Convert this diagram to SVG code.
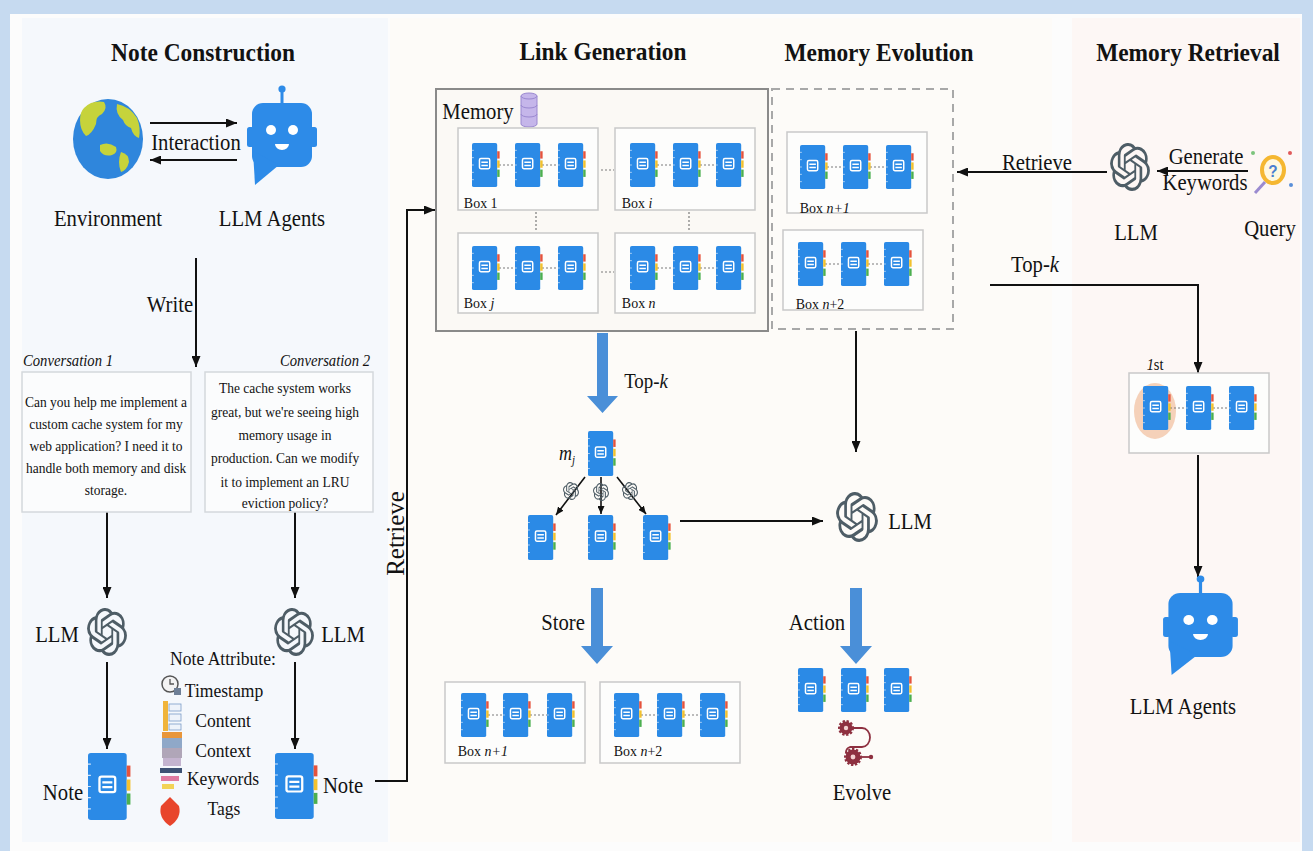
<svg xmlns="http://www.w3.org/2000/svg" width="1313" height="851" viewBox="0 0 1313 851">
<style>
text{font-family:"Liberation Serif","Times New Roman",serif;fill:#121212;text-anchor:middle;transform-box:fill-box;transform-origin:center;transform:scaleX(.9)}
.h{font-size:26px;font-weight:bold}
.t{font-size:23px}
.s{font-size:15px}
.a{font-size:19.5px}
.c{font-size:16.3px;font-style:italic}
.b{font-size:15.5px;text-anchor:start}
.i{font-style:italic}
.v{transform:rotate(-90deg)}
.ln{fill:none;stroke:#111;stroke-width:2}
.arr{marker-end:url(#ah)}
.sarr{fill:none;stroke:#111;stroke-width:1.6;marker-end:url(#ahs)}
.box{fill:#fdfdfc;stroke:#c9c9c9;stroke-width:1.5}
.tbox{fill:#fbfcfd;stroke:#d4d8dc;stroke-width:1.5}
.dot{fill:none;stroke:#7a7a7a;stroke-width:1.2;stroke-dasharray:2 2}
.blue{fill:#4a8fd8}
.llm{color:#4e5d66}
.gear{fill:#8e3040;stroke:#8e3040;stroke-width:3;stroke-dasharray:2.2 1.6}
</style>
<defs>
  <marker id="ah" markerWidth="11" markerHeight="9" refX="11" refY="4.5" orient="auto" markerUnits="userSpaceOnUse">
    <path d="M0,0 L11,4.5 L0,9 Z" fill="#111"/>
  </marker>
  <marker id="ahs" markerWidth="8" markerHeight="7" refX="8" refY="3.5" orient="auto" markerUnits="userSpaceOnUse">
    <path d="M0,0 L8,3.5 L0,7 Z" fill="#111"/>
  </marker>
  <!-- blue notebook -->
  <symbol id="note" viewBox="0 0 30 48" preserveAspectRatio="none">
    <rect x="0" y="0" width="27" height="48" rx="2" fill="#2b8ae6"/>
    <rect x="27" y="9" width="2.6" height="8" fill="#e5533d"/>
    <rect x="27" y="19" width="2.6" height="8" fill="#f2c12e"/>
    <rect x="27" y="29" width="2.6" height="8" fill="#4caf50"/>
    <rect x="8" y="17" width="11" height="11" rx="1.5" fill="none" stroke="#fff" stroke-width="1.6"/>
    <path d="M10,21H17M10,24.5H17" stroke="#fff" stroke-width="1.6"/>
    <path d="M0,8h2M0,16h2M0,24h2M0,32h2M0,40h2" stroke="#d3e6fa" stroke-width=".8"/>
  </symbol>
  <!-- LLM logo -->
  <symbol id="oai" viewBox="0 0 24 24" preserveAspectRatio="none">
    <path fill="currentColor" d="M22.2819 9.8211a5.9847 5.9847 0 0 0-.5157-4.9108 6.0462 6.0462 0 0 0-6.5098-2.9A6.0651 6.0651 0 0 0 4.9807 4.1818a5.9847 5.9847 0 0 0-3.9977 2.9 6.0462 6.0462 0 0 0 .7427 7.0966 5.98 5.98 0 0 0 .511 4.9107 6.051 6.051 0 0 0 6.5146 2.9001A5.9847 5.9847 0 0 0 13.2599 24a6.0557 6.0557 0 0 0 5.7718-4.2058 5.9894 5.9894 0 0 0 3.9977-2.9001 6.0557 6.0557 0 0 0-.7475-7.0729zm-9.022 12.6081a4.4755 4.4755 0 0 1-2.8764-1.0408l.1419-.0804 4.7783-2.7582a.7948.7948 0 0 0 .3927-.6813v-6.7369l2.02 1.1686a.071.071 0 0 1 .038.052v5.5826a4.504 4.504 0 0 1-4.4945 4.4944zm-9.6607-4.1254a4.4708 4.4708 0 0 1-.5346-3.0137l.142.0852 4.783 2.7582a.7712.7712 0 0 0 .7806 0l5.8428-3.3685v2.3324a.0804.0804 0 0 1-.0332.0615L9.74 19.9502a4.4992 4.4992 0 0 1-6.1408-1.6464zM2.3408 7.8956a4.485 4.485 0 0 1 2.3655-1.9728V11.6a.7664.7664 0 0 0 .3879.6765l5.8144 3.3543-2.0201 1.1685a.0757.0757 0 0 1-.071 0l-4.8303-2.7865A4.504 4.504 0 0 1 2.3408 7.872zm16.5963 3.8558L13.1038 8.364 15.1192 7.2a.0757.0757 0 0 1 .071 0l4.8303 2.7913a4.4944 4.4944 0 0 1-.6765 8.1042v-5.6772a.79.79 0 0 0-.407-.667zm2.0107-3.0231l-.142-.0852-4.7735-2.7818a.7759.7759 0 0 0-.7854 0L9.409 9.2297V6.8974a.0662.0662 0 0 1 .0284-.0615l4.8303-2.7866a4.4992 4.4992 0 0 1 6.6802 4.66zM8.3065 12.863l-2.02-1.1638a.0804.0804 0 0 1-.038-.0567V6.0742a4.4992 4.4992 0 0 1 7.3757-3.4537l-.142.0805L8.704 5.459a.7948.7948 0 0 0-.3927.6813zm1.0976-2.3654l2.602-1.4998 2.6069 1.4998v2.9994l-2.5974 1.4997-2.6067-1.4997Z"/>
  </symbol>
  <!-- robot agent -->
  <symbol id="bot" viewBox="-6 -18 72 101" preserveAspectRatio="none">
    <line x1="30" y1="-12" x2="30" y2="0" stroke="#2d8be8" stroke-width="3"/>
    <circle cx="30" cy="-14" r="3.6" fill="#2d8be8"/>
    <rect x="-5" y="24" width="7" height="20" rx="2.5" fill="#2d8be8"/>
    <rect x="58" y="24" width="7" height="20" rx="2.5" fill="#2d8be8"/>
    <rect x="0" y="0" width="60" height="64" rx="11" fill="#2d8be8"/>
    <path d="M1,48 L3,82 L27,62 Z" fill="#2d8be8"/>
    <circle cx="19" cy="27" r="5" fill="#fff"/>
    <circle cx="41" cy="27" r="5" fill="#fff"/>
    <path d="M23,41 a7,6 0 0 0 14,0 Z" fill="#fff"/>
  </symbol>
</defs>

<!-- frame and panel backgrounds -->
<rect width="1313" height="851" fill="#c6daf0"/>
<rect x="10" y="14" width="1292" height="837" fill="#fcfcfc"/>
<rect x="22" y="18" width="366" height="824" fill="#f5f8fc"/>
<rect x="390" y="18" width="662" height="824" fill="#fdfbf8"/>
<rect x="1072" y="18" width="228" height="824" fill="#fdf7f5"/>

<!-- section titles -->
<g id="titles">
  <text class="h" x="203" y="61">Note Construction</text>
  <text class="h" x="603" y="60">Link Generation</text>
  <text class="h" x="879" y="61">Memory Evolution</text>
  <text class="h" x="1188" y="61">Memory Retrieval</text>
</g>

<!-- connectors -->
<g id="connectors">
  <path class="ln arr" d="M150,123 H237"/>
  <path class="ln arr" d="M237,160 H150"/>
  <path class="ln arr" d="M196,258 V367"/>
  <path class="ln arr" d="M107,512 V598"/>
  <path class="ln arr" d="M295,512 V598"/>
  <path class="ln arr" d="M107,662 V749"/>
  <path class="ln arr" d="M295,662 V749"/>
  <path class="ln arr" d="M375,781 H407 V210 H435"/>
  <path class="ln arr" d="M856,331 V452"/>
  <path class="ln arr" d="M680,521 H823"/>
  <path class="ln arr" d="M1107,172 H957"/>
  <path class="ln arr" d="M1248,171 H1157"/>
  <path class="ln arr" d="M990,285 H1198 V373"/>
  <path class="ln arr" d="M1198,455 V577"/>
  <path class="sarr" d="M585,477 L556,515"/>
  <path class="sarr" d="M601,477 V514"/>
  <path class="sarr" d="M617,477 L646,514"/>
  <!-- thick blue arrows -->
  <path class="blue" d="M597,333 H608 V396 H618 L602.5,413 L587,396 H597 Z"/>
  <path class="blue" d="M591,588 H603 V646 H613 L597,664 L581,646 H591 Z"/>
  <path class="blue" d="M850,588 H862 V646 H872 L856,664 L840,646 H850 Z"/>
  <text class="t" x="170" y="312">Write</text>
  <text class="t" x="196" y="150">Interaction</text>
  <text class="t v" x="395" y="542" style="font-size:25px">Retrieve</text>
  <text class="t" x="1037" y="170">Retrieve</text>
  <text class="t" x="1206" y="164">Generate</text>
  <text class="t" x="1205" y="190">Keywords</text>
  <text class="t" x="1035" y="272">Top-<tspan class="i">k</tspan></text>
  <text class="t" x="646" y="388" style="font-size:21px">Top-<tspan class="i">k</tspan></text>
  <text class="t" x="563" y="630">Store</text>
  <text class="t" x="817" y="630">Action</text>
</g>

<!-- environment globe -->
<g id="environment">
  <ellipse cx="108" cy="139" rx="35" ry="40" fill="#2f86dc"/>
  <path d="M84,108 q8,-8 20,-6 q4,6 -2,12 q-6,2 -6,10 q-4,10 -10,12 q-6,-6 -6,-16 q0,-8 4,-12 z" fill="#c6d33b"/>
  <path d="M117,104 q12,2 20,14 q4,10 2,20 q-6,-2 -8,-10 q-6,-2 -8,-8 q-8,-6 -6,-16 z" fill="#c6d33b"/>
  <path d="M100,145 q8,-4 16,2 q2,6 -4,8 q-8,2 -12,-4 z" fill="#c6d33b"/>
  <path d="M121,152 q8,2 8,10 q-2,8 -8,10 q-4,-10 0,-20 z" fill="#c6d33b"/>
  <text class="t" x="108" y="226">Environment</text>
</g>

<!-- agent (top) -->
<g id="agent-top">
  <use href="#bot" x="246" y="85" width="72" height="101"/>
  <text class="t" x="272" y="226">LLM Agents</text>
</g>

<!-- conversations -->
<g id="conversation-1">
  <text class="c" x="68" y="366">Conversation 1</text>
  <rect class="tbox" x="22" y="372" width="169" height="140"/>
  <text class="s" x="106" y="407">Can you help me implement a</text>
  <text class="s" x="106" y="429">custom cache system for my</text>
  <text class="s" x="106" y="451">web application? I need it to</text>
  <text class="s" x="106" y="473">handle both memory and disk</text>
  <text class="s" x="106" y="495">storage.</text>
</g>
<g id="conversation-2">
  <text class="c" x="325" y="366">Conversation 2</text>
  <rect class="tbox" x="205" y="372" width="168" height="140"/>
  <text class="s" x="285" y="393">The cache system works</text>
  <text class="s" x="285" y="417">great, but we're seeing high</text>
  <text class="s" x="285" y="440">memory usage in</text>
  <text class="s" x="285" y="463">production. Can we modify</text>
  <text class="s" x="285" y="487">it to implement an LRU</text>
  <text class="s" x="285" y="508">eviction policy?</text>
</g>

<!-- LLMs in note construction -->
<g id="llm-left">
  <use href="#oai" class="llm" x="87" y="608" width="40" height="48"/>
  <text class="t" x="57" y="642">LLM</text>
</g>
<g id="llm-right">
  <use href="#oai" class="llm" x="274" y="608" width="40" height="48"/>
  <text class="t" x="343" y="642">LLM</text>
</g>

<!-- notes -->
<g id="note-left">
  <use href="#note" x="88" y="753" width="43" height="67"/>
  <text class="t" x="63" y="800">Note</text>
</g>
<g id="note-right">
  <use href="#note" x="275" y="753" width="43" height="66"/>
  <text class="t" x="343" y="793">Note</text>
</g>

<!-- note attributes -->
<g id="note-attributes">
  <text class="a" x="223" y="665">Note Attribute:</text>
  <text class="a" x="224" y="697">Timestamp</text>
  <text class="a" x="223" y="727">Content</text>
  <text class="a" x="223" y="757">Context</text>
  <text class="a" x="223" y="785">Keywords</text>
  <text class="a" x="224" y="815">Tags</text>
  <circle cx="170" cy="684" r="8" fill="#f3f3f3" stroke="#555" stroke-width="1.5"/>
  <path d="M170,679 V684 H174" stroke="#555" stroke-width="1.3" fill="none"/>
  <rect x="174" y="688" width="7" height="7" fill="#6e7f96"/>
  <rect x="163" y="701" width="5" height="30" fill="#f0b43a"/>
  <rect x="169" y="704" width="12" height="7" fill="#eef3fa" stroke="#7a9cc8" stroke-width=".8"/>
  <rect x="169" y="714" width="12" height="7" fill="#eef3fa" stroke="#7a9cc8" stroke-width=".8"/>
  <rect x="169" y="724" width="12" height="6" fill="#eef3fa" stroke="#7a9cc8" stroke-width=".8"/>
  <rect x="162" y="732" width="20" height="6" fill="#e8963a"/>
  <rect x="162" y="738" width="20" height="10" fill="#8fa8c8"/>
  <rect x="162" y="748" width="20" height="10" fill="#b0a6b8"/>
  <rect x="163" y="758" width="18" height="8" fill="#c4b4cf"/>
  <rect x="160" y="768" width="22" height="5" fill="#3e5274"/>
  <rect x="161" y="776" width="18" height="5" fill="#e07aa0"/>
  <rect x="162" y="784" width="12" height="5" fill="#f2d356"/>
  <path d="M170,797 l9,9 q3,12 -9,20 q-12,-8 -9,-20 z" fill="#e8452c"/>
</g>

<!-- memory store -->
<g id="memory">
  <rect x="436" y="89" width="332" height="242" fill="#fbf9f5" stroke="#8a8a8a" stroke-width="2"/>
  <text class="t" x="478" y="119">Memory</text>
  <g id="db-icon" fill="#c5b6ea" stroke="#9a88d0" stroke-width="1">
    <path d="M521,96 V124 a8,3 0 0 0 16,0 V96"/>
    <ellipse cx="529" cy="96" rx="8" ry="3"/>
    <path d="M521,105 a8,3 0 0 0 16,0 M521,114 a8,3 0 0 0 16,0" fill="none"/>
  </g>
  <rect class="box" x="458" y="128" width="140" height="82"/>
  <rect class="box" x="615" y="128" width="140" height="82"/>
  <rect class="box" x="458" y="233" width="140" height="80"/>
  <rect class="box" x="615" y="233" width="140" height="80"/>
  <path class="dot" d="M499,165H515M542,165H558M657,165H673M700,165H716M499,268H515M542,268H558M657,268H673M700,268H716"/>
  <path class="dot" d="M601,170H614M601,272H614M536,212V232M689,212V232"/>
  <use href="#note" x="472" y="143" width="28" height="44"/>
  <use href="#note" x="515" y="143" width="28" height="44"/>
  <use href="#note" x="558" y="143" width="28" height="44"/>
  <use href="#note" x="630" y="143" width="28" height="44"/>
  <use href="#note" x="673" y="143" width="28" height="44"/>
  <use href="#note" x="716" y="143" width="28" height="44"/>
  <use href="#note" x="472" y="246" width="28" height="44"/>
  <use href="#note" x="515" y="246" width="28" height="44"/>
  <use href="#note" x="558" y="246" width="28" height="44"/>
  <use href="#note" x="630" y="246" width="28" height="44"/>
  <use href="#note" x="673" y="246" width="28" height="44"/>
  <use href="#note" x="716" y="246" width="28" height="44"/>
  <text class="b" x="462" y="208">Box 1</text>
  <text class="b" x="620" y="208">Box <tspan class="i">i</tspan></text>
  <text class="b" x="462" y="308">Box <tspan class="i">j</tspan></text>
  <text class="b" x="620" y="308">Box <tspan class="i">n</tspan></text>
</g>

<!-- evolved memory boxes -->
<g id="evolution-boxes">
  <rect x="772" y="89" width="181" height="240" fill="none" stroke="#a8a8a8" stroke-width="2" stroke-dasharray="8 6"/>
  <rect class="box" x="787" y="132" width="140" height="81"/>
  <rect class="box" x="783" y="230" width="140" height="80"/>
  <path class="dot" d="M827,167H843M870,167H886M825,264H841M868,264H884"/>
  <use href="#note" x="800" y="145" width="28" height="44"/>
  <use href="#note" x="843" y="145" width="28" height="44"/>
  <use href="#note" x="886" y="145" width="28" height="44"/>
  <use href="#note" x="798" y="242" width="28" height="44"/>
  <use href="#note" x="841" y="242" width="28" height="44"/>
  <use href="#note" x="884" y="242" width="28" height="44"/>
  <text class="b" x="797" y="213">Box <tspan class="i">n+1</tspan></text>
  <text class="b" x="793" y="309">Box <tspan class="i">n</tspan>+2</text>
</g>

<!-- link generation: m_j and neighbours -->
<g id="link-notes">
  <use href="#note" x="588" y="431" width="28" height="45"/>
  <text x="567" y="460" style="font-size:20px"><tspan class="i">m</tspan><tspan class="i" dy="4" style="font-size:12px">j</tspan></text>
  <use href="#oai" class="llm" x="563" y="482" width="16" height="18"/>
  <use href="#oai" class="llm" x="593" y="483" width="16" height="18"/>
  <use href="#oai" class="llm" x="622" y="482" width="16" height="18"/>
  <use href="#note" x="528" y="515" width="28" height="45"/>
  <use href="#note" x="588" y="515" width="28" height="45"/>
  <use href="#note" x="643" y="515" width="28" height="45"/>
</g>

<!-- LLM in memory evolution -->
<g id="llm-evolution">
  <use href="#oai" class="llm" x="836" y="492" width="42" height="50"/>
  <text class="t" x="910" y="529">LLM</text>
</g>

<!-- stored boxes -->
<g id="stored-boxes">
  <rect class="box" x="445" y="682" width="140" height="81"/>
  <rect class="box" x="600" y="682" width="140" height="81"/>
  <path class="dot" d="M488,715H503M530,715H547M641,715H657M684,715H700"/>
  <use href="#note" x="461" y="693" width="28" height="44"/>
  <use href="#note" x="503" y="693" width="28" height="44"/>
  <use href="#note" x="547" y="693" width="28" height="44"/>
  <use href="#note" x="614" y="693" width="28" height="44"/>
  <use href="#note" x="657" y="693" width="28" height="44"/>
  <use href="#note" x="700" y="693" width="28" height="44"/>
  <text class="b" x="455" y="756">Box <tspan class="i">n+1</tspan></text>
  <text class="b" x="611" y="756">Box <tspan class="i">n</tspan>+2</text>
</g>

<!-- evolve action -->
<g id="evolve">
  <use href="#note" x="798" y="668" width="28" height="44"/>
  <use href="#note" x="841" y="668" width="28" height="44"/>
  <use href="#note" x="884" y="668" width="28" height="44"/>
  <path d="M853,728 H862 a8,9.5 0 0 1 0,19 H850 a6,6 0 0 0 -4,6" fill="none" stroke="#8e3040" stroke-width="1.8"/>
  <circle class="gear" cx="846" cy="728" r="6.5"/>
  <circle cx="846" cy="728" r="2.2" fill="#f3d0d0"/>
  <circle class="gear" cx="853" cy="757" r="7.5"/>
  <circle cx="853" cy="757" r="2.4" fill="#f3d0d0"/>
  <path d="M862,757 H870" stroke="#8e3040" stroke-width="1.8"/>
  <circle cx="871" cy="757" r="2.2" fill="#8e3040"/>
  <text class="t" x="862" y="800">Evolve</text>
</g>

<!-- retrieval -->
<g id="llm-retrieval">
  <use href="#oai" class="llm" x="1110" y="143" width="40" height="48"/>
  <text class="t" x="1136" y="240">LLM</text>
</g>
<g id="query">
  <ellipse cx="1273" cy="170" rx="11" ry="13" fill="#fff8e0" stroke="#f5b731" stroke-width="4"/>
  <text x="1273" y="177" style="font-size:17px;font-family:'Liberation Sans',sans-serif;fill:#4a7fd0;font-weight:bold">?</text>
  <path d="M1265,182 L1255,193" stroke="#9b8bd0" stroke-width="3"/>
  <circle cx="1253" cy="153" r="2" fill="#7cc47c"/>
  <circle cx="1290" cy="153" r="2" fill="#e05a5a"/>
  <circle cx="1291" cy="185" r="2" fill="#5a8fd8"/>
  <text class="t" x="1270" y="236">Query</text>
</g>
<g id="top-k-box">
  <rect class="box" x="1129" y="373" width="140" height="80"/>
  <ellipse cx="1155" cy="411" rx="21" ry="28" fill="#f2c6a8" opacity=".8"/>
  <path class="dot" d="M1170,408H1186M1213,408H1229"/>
  <use href="#note" x="1143" y="386" width="28" height="44"/>
  <use href="#note" x="1186" y="386" width="28" height="44"/>
  <use href="#note" x="1229" y="386" width="28" height="44"/>
  <text x="1155" y="370" style="font-size:16px"><tspan class="i">1</tspan>st</text>
</g>
<g id="agent-bottom">
  <use href="#bot" x="1162" y="575" width="77" height="101"/>
  <text class="t" x="1183" y="714">LLM Agents</text>
</g>
</svg>
